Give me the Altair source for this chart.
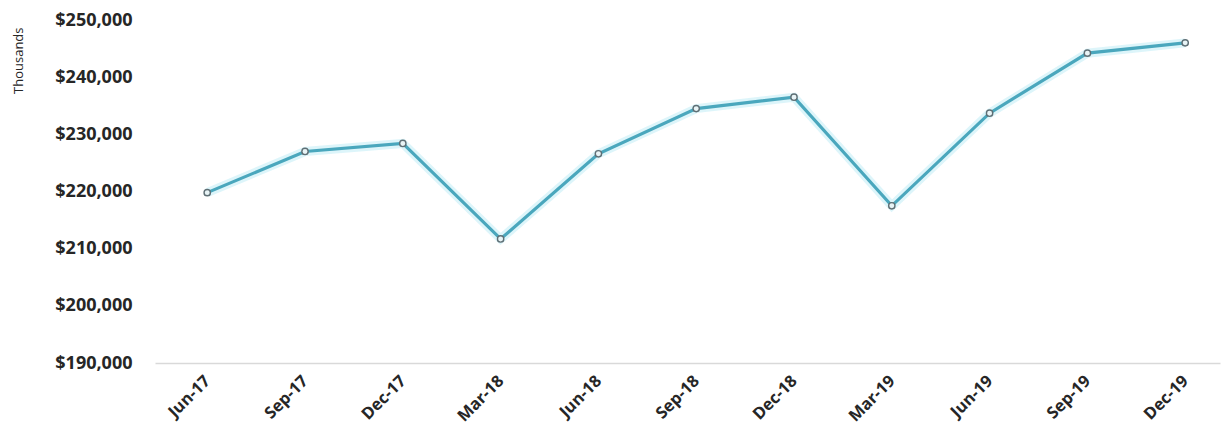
import altair as alt
import pandas as pd

quarters = ["Jun-17", "Sep-17", "Dec-17", "Mar-18", "Jun-18", "Sep-18",
            "Dec-18", "Mar-19", "Jun-19", "Sep-19", "Dec-19"]
values = [219800, 227000, 228400, 211700, 226600, 234500,
          236500, 217500, 233700, 244200, 246000]
y_ticks = [190000, 200000, 210000, 220000, 230000, 240000, 250000]

df = pd.DataFrame({"quarter": quarters, "value": values})

FONT = "Open Sans"

x_enc = alt.X(
    "quarter:N",
    sort=quarters,
    scale=alt.Scale(type="point", padding=0.445, align=0.6),
    axis=alt.Axis(
        title=None,
        labelAngle=315,
        labelAlign="right",
        labelBaseline="middle",
        labelPadding=15,
        labelFont=FONT,
        labelFontSize=16.5,
        labelFontWeight="bold",
        labelColor="#262626",
        ticks=False,
        domainColor="#d9d9d9",
        domainWidth=1.5,
        grid=False,
    ),
)

y_enc = alt.Y(
    "value:Q",
    scale=alt.Scale(domain=[190000, 250000], nice=False, zero=False),
    axis=alt.Axis(
        values=y_ticks,
        format="$,.0f",
        title="Thousands",
        titleFont=FONT,
        titleFontSize=13,
        titleFontWeight="normal",
        titleColor="#262626",
        titleAngle=270,
        titleAlign="right",
        titleBaseline="middle",
        titleX=-137,
        titleY=7,
        labelFont=FONT,
        labelFontSize=18,
        labelFontWeight="bold",
        labelColor="#262626",
        labelPadding=23,
        ticks=False,
        domain=False,
        grid=False,
    ),
)

base = alt.Chart(df).encode(x=x_enc, y=y_enc)

glow = base.mark_line(color="#9fe3f0", strokeWidth=9, opacity=0.35)
line = base.mark_line(color="#4aa7bd", strokeWidth=3.2)
points = base.mark_point(
    shape="circle", size=40, filled=True, fill="#e8f4f6",
    stroke="#5f6f75", strokeWidth=1.4, opacity=1
)

chart = (
    alt.layer(glow, line, points)
    .properties(
        width=1065,
        height=343,
        padding={"left": 155, "top": 20, "right": 2, "bottom": 74},
        autosize=alt.AutoSizeParams(type="none"),
        background="white",
    )
    .configure_view(stroke=None)
)

chart.save("out.html", embed_options={"renderer": "svg", "actions": False})
